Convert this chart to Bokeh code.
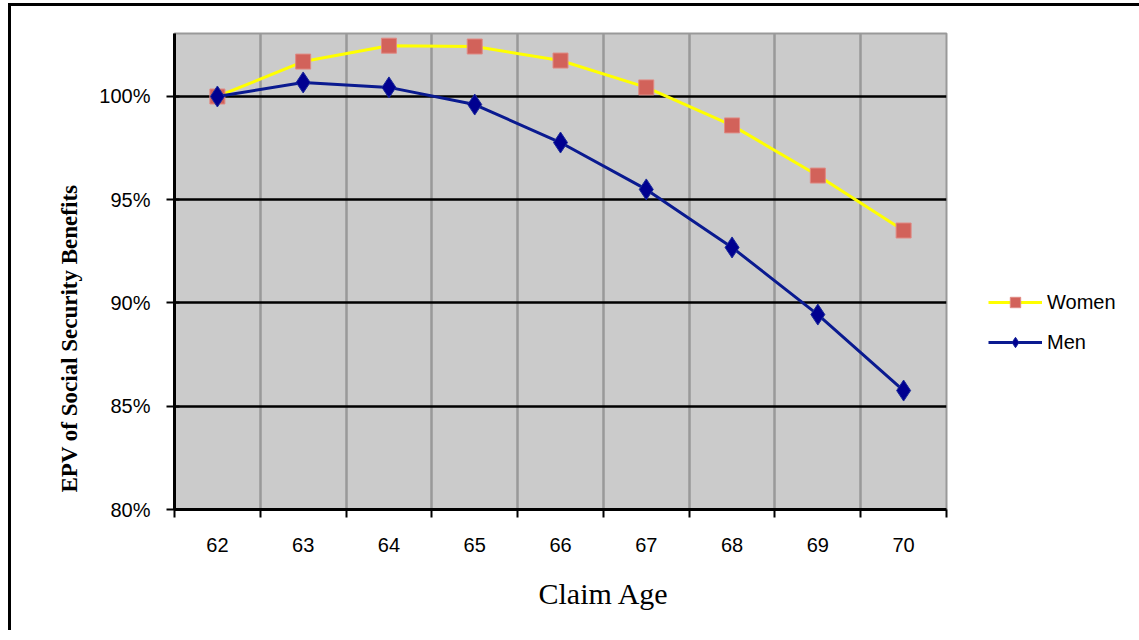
import math
from bokeh.plotting import figure
from bokeh.models import (FixedTicker, Legend, LegendItem, Title, PrintfTickFormatter, Range1d)
from bokeh.embed import file_html
from bokeh.resources import INLINE

# ---- data ----
ages = [62, 63, 64, 65, 66, 67, 68, 69, 70]
women = [100.0, 101.69, 102.46, 102.42, 101.74, 100.44, 98.60, 96.17, 93.51]
men = [100.0, 100.68, 100.44, 99.61, 97.77, 95.50, 92.69, 89.44, 85.76]
y_ticks = [80, 85, 90, 95, 100]
y_title = "EPV of Social Security Benefits"
x_title = "Claim Age"

boundaries = [a - 0.5 for a in ages] + [ages[-1] + 0.5]

p = figure(frame_width=772, frame_height=476, output_backend="svg", toolbar_location=None,
           x_range=Range1d(boundaries[0], boundaries[-1]), y_range=Range1d(80, 103.05),
           min_border_left=163, min_border_top=27, min_border_right=10, min_border_bottom=10)
p.styles = {"border-left": "3px solid black", "border-top": "3px solid black",
            "margin-left": "8px", "margin-top": "3px"}

p.background_fill_color = "#CBCBCB"
p.border_fill_color = "white"
p.outline_line_color = "#999999"
p.outline_line_width = 2

# grids
p.xgrid.ticker = FixedTicker(ticks=boundaries)
p.xgrid.grid_line_color = "#999999"
p.xgrid.grid_line_width = 2.5
p.ygrid.ticker = FixedTicker(ticks=y_ticks)
p.ygrid.grid_line_color = "black"
p.ygrid.grid_line_width = 2.5

# x axis
p.xaxis.ticker = FixedTicker(ticks=ages, minor_ticks=boundaries)
p.xaxis.major_tick_out = 0
p.xaxis.major_tick_in = 0
p.xaxis.minor_tick_out = 8
p.xaxis.minor_tick_in = 0
p.xaxis.minor_tick_line_color = "black"
p.xaxis.minor_tick_line_width = 2
p.xaxis.axis_line_width = 3
p.xaxis.axis_line_color = "black"
p.xaxis.major_label_standoff = 20
p.xaxis.major_label_text_font = "Liberation Sans"
p.xaxis.major_label_text_font_size = "20px"
p.xaxis.major_label_text_color = "black"

# y axis
p.yaxis.ticker = FixedTicker(ticks=y_ticks)
p.yaxis.formatter = PrintfTickFormatter(format="%d%%")
p.yaxis.major_tick_out = 8
p.yaxis.major_tick_in = 5
p.yaxis.major_tick_line_width = 2
p.yaxis.minor_tick_line_color = None
p.yaxis.axis_line_width = 3
p.yaxis.axis_line_color = "black"
p.yaxis.major_label_standoff = 16
p.yaxis.major_label_text_font = "Liberation Sans"
p.yaxis.major_label_text_font_size = "20px"
p.yaxis.major_label_text_color = "black"

# series
wl = p.line(ages, women, line_color="#FFFF00", line_width=3)
ws = p.scatter(ages, women, marker="square", size=15, fill_color="#D2625A",
               line_color="#E08A84", line_width=1)
ml = p.line(ages, men, line_color="#0A1A90", line_width=3)
ms = p.scatter(ages, men, marker="diamond", size=21,
               fill_color="#000090", line_color="#1A2A9A", line_width=1)

legend = Legend(items=[LegendItem(label="Women", renderers=[wl, ws]),
                       LegendItem(label="Men", renderers=[ml, ms])],
                location=(42, 154), orientation="vertical",
                glyph_width=54, glyph_height=26, label_height=24, spacing=14,
                padding=0, margin=0, border_line_color=None, background_fill_alpha=0,
                label_standoff=5, label_text_font="Liberation Sans",
                label_text_font_size="20px", label_text_color="black")
p.add_layout(legend, "right")

p.add_layout(Title(text=y_title, align="left", offset=17, standoff=30,
                   text_font="Liberation Serif", text_font_style="bold",
                   text_font_size="23px", text_color="black"), "left")
p.add_layout(Title(text=x_title, align="left", offset=364, standoff=41,
                   text_font="Liberation Serif", text_font_style="normal",
                   text_font_size="30px", text_color="black"), "below")

open("out.html", "w").write(file_html(p, INLINE))
